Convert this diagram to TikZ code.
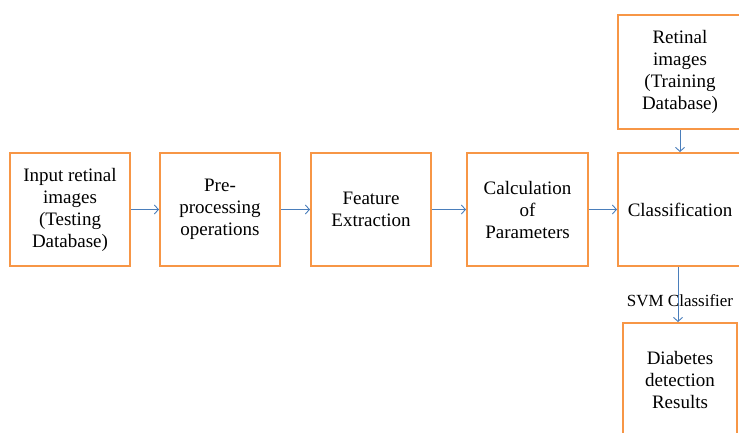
\documentclass[tikz,border=0pt]{standalone}
\usepackage{fontspec}
\setmainfont{Liberation Serif}
\usetikzlibrary{arrows.meta}
\definecolor{boxorange}{HTML}{F79646}
\definecolor{linkblue}{HTML}{4A7EBB}
\begin{document}
\begin{tikzpicture}[x=1pt,y=-1pt,
  stagebox/.style={draw=boxorange,line width=2pt,minimum width=120pt,minimum height=113pt,
    align=center,font=\fontsize{19}{22}\selectfont,inner sep=2pt},
  link/.style={draw=linkblue,line width=0.9pt,-{Straight Barb[length=4pt,width=9pt]}}]
\useasboundingbox (0,0) rectangle (739,432);
\node[stagebox] (input) at (70,209.5) {Input retinal\\images\\(Testing\\Database)};
\node[stagebox] (pre) at (220,209.5) {Pre-\\processing\\operations};
\node[stagebox] (feat) at (371,209.5) {Feature\\Extraction};
\node[stagebox,minimum width=121pt] (calc) at (527.5,209.5) {Calculation\\of\\Parameters};
\node[stagebox,minimum width=124pt] (cls) at (680,209.5) {Classification};
\node[stagebox,minimum width=124pt,minimum height=114pt] (train) at (680,72) {Retinal\\images\\(Training\\Database)};
\node[stagebox,minimum width=114pt] (res) at (680,379.5) {Diabetes\\detection\\Results};
\draw[link] (input.east) -- (pre.west);
\draw[link] (pre.east) -- (feat.west);
\draw[link] (feat.east) -- (calc.west);
\draw[link] (calc.east) -- (cls.west);
\draw[link] (train.south) -- (cls.north);
\coordinate (clsb) at ([xshift=-2pt]cls.south);
\draw[link] (clsb) -- (clsb |- res.north);
\node[font=\fontsize{17}{19}\selectfont,inner sep=0pt] (svm) at (680,301) {SVM Classifier};
\end{tikzpicture}
\end{document}
